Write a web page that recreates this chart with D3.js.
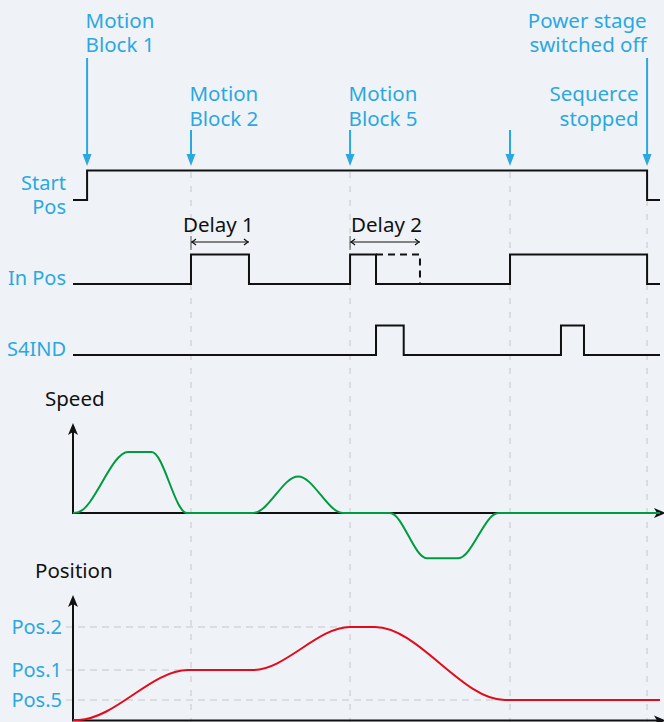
<!DOCTYPE html>
<html><head><meta charset="utf-8">
<script src="https://cdn.jsdelivr.net/npm/d3@7"></script>
<style>
html,body{margin:0;padding:0;background:#eff3f7;}
svg{display:block;font-family:"Noto Sans","Open Sans",sans-serif;}
</style></head><body>
<svg id="chart" width="664" height="722"></svg>
<script>
// ---------- DATA (time axis in arbitrary units 0..100) ----------
const markerTimes = [2.4, 20.1, 47.2, 74.45, 97.8];
const gridTimes = [20.1, 47.2, 74.45, 97.8];
const labelTexts = [["Motion","Block 1"],["Motion","Block 2"],["Motion","Block 5"],["Power stage","switched off"],["Sequerce","stopped"]];
const labelTimes = [2.4, 20.1, 47.2, 97.8, 97.8];
const labelRows = [0, 1, 1, 0, 1];

const signalNames = ["Start Pos", "In Pos", "S4IND"];
const startPosSteps = [[0,0],[2.4,1],[97.8,0],[100,0]];
const inPosSteps = [[0,0],[20.1,1],[29.98,0],[47.2,1],[51.62,0],[74.45,1],[97.8,0],[100,0]];
const inPosDelayed = [[51.62,1],[59.11,1],[59.11,0]];
const s4indSteps = [[0,0],[51.62,1],[56.34,0],[83.13,1],[87.05,0],[100,0]];

const delayNames = ["Delay 1", "Delay 2"];
const delayStart = [20.1, 47.2];
const delayEnd = [29.98, 59.11];

const speedTime  = [0, 0.8, 9.4, 13.4, 19.4, 30.7, 38.35, 46.0, 54.0, 60.26, 65.64, 72.45, 100];
const speedValue = [0, 1, 100, 100, 0, 0, 60, 0, 0, -74, -74, 0, 0];

const posTime  = [0, 1, 19.6, 30.66, 47.2, 51.45, 73.6, 100];
const posValue = [0, 0.1, 50, 50, 93, 93, 20, 20];

const posTickNames = ["Pos.2", "Pos.1", "Pos.5"];
const posTickValues = [93, 50, 20];
const posTickReach = [47.2, 20.1, 74.45];

// ---------- STYLE / LAYOUT ----------
const BLUE = "#2ba8e0", BLACK = "#111", GRID = "#d4d6d8", GREEN = "#009a3f", RED = "#e30a1c";
const svg = d3.select("#chart");
const x = d3.scaleLinear().domain([0,100]).range([73,660]);
const signalBase = d3.scaleOrdinal().domain(signalNames).range([200, 284, 355]);
const level = d3.scaleLinear().domain([0,1]).range([0,-29.5]);
const ySpeed = d3.scaleLinear().domain([-100,100]).range([574,452]);
const yPos = d3.scaleLinear().domain([0,100]).range([720,620]);

// vertical dashed gridlines
svg.append("g").selectAll("line").data(gridTimes).join("line")
  .attr("x1", d=>x(d)).attr("x2", d=>x(d)).attr("y1", 172).attr("y2", 722)
  .attr("stroke", GRID).attr("stroke-width", 1.5).attr("stroke-dasharray", "6,8");

// horizontal position gridlines
svg.append("g").selectAll("line").data(posTickValues).join("line")
  .attr("x1", 66).attr("x2", (d,i)=>x(posTickReach[i])).attr("y1", d=>yPos(d)).attr("y2", d=>yPos(d))
  .attr("stroke", GRID).attr("stroke-width", 1.5).attr("stroke-dasharray", "7,5");

// marker labels
const rowBase = [27.5, 101];
labelTexts.forEach((lines, i) => {
  const anchorEnd = labelTimes[i] > 90;
  const tx = anchorEnd ? x(labelTimes[i]) + (labelRows[i] === 0 ? -0.5 : -8.5) : x(labelTimes[i]) - 1.5;
  const t = svg.append("text").attr("fill", BLUE).attr("font-size", 20.5)
    .attr("text-anchor", anchorEnd ? "end" : "start");
  lines.forEach((s, j) => t.append("tspan").attr("x", tx).attr("y", rowBase[labelRows[i]] + j*24.5).text(s));
});

// marker arrows
markerTimes.forEach(tm => {
  const top = labelTimes.some((lt, i) => lt === tm && labelRows[i] === 0) ? 58 : 130;
  const cx = x(tm);
  svg.append("line").attr("x1", cx).attr("x2", cx).attr("y1", top).attr("y2", 158)
    .attr("stroke", BLUE).attr("stroke-width", 2);
  svg.append("path").attr("d", `M${cx-4.5},154 L${cx+4.5},154 L${cx},166 Z`).attr("fill", BLUE);
});

// signals
const stepLine = base => d3.line().x(d=>x(d[0])).y(d=>base + level(d[1])).curve(d3.curveStepAfter);
const signalData = [startPosSteps, inPosSteps, s4indSteps];
signalNames.forEach((n, i) => {
  svg.append("path").attr("d", stepLine(signalBase(n))(signalData[i]))
    .attr("fill", "none").attr("stroke", BLACK).attr("stroke-width", 2);
});
svg.append("path").attr("d", d3.line().x(d=>x(d[0])).y(d=>signalBase("In Pos") + level(d[1]))(inPosDelayed))
  .attr("fill", "none").attr("stroke", BLACK).attr("stroke-width", 2).attr("stroke-dasharray", "7,5");

// signal labels
const sigLbl = svg.append("g").attr("fill", BLUE).attr("font-size", 20).attr("text-anchor", "end");
sigLbl.append("text").attr("x", 66).attr("y", 190).text("Start");
sigLbl.append("text").attr("x", 66).attr("y", 213.5).text("Pos");
sigLbl.append("text").attr("x", 66).attr("y", 285).text("In Pos");
sigLbl.append("text").attr("x", 66).attr("y", 356).text("S4IND");

// delay annotations
delayNames.forEach((n, i) => {
  const x0 = x(delayStart[i]), x1 = x(delayEnd[i]), y = 242;
  svg.append("text").attr("x", x0 - 8 + (i ? 9 : 0)).attr("y", 232).attr("font-size", 20.5).attr("fill", BLACK).text(n);
  svg.append("line").attr("x1", x0).attr("x2", x1).attr("y1", y).attr("y2", y).attr("stroke", BLACK).attr("stroke-width", 1);
  svg.append("line").attr("x1", x0).attr("x2", x0).attr("y1", 236).attr("y2", 250).attr("stroke", "#555").attr("stroke-width", 1);
  svg.append("path").attr("d", `M${x0+5},${y-3} L${x0+1},${y} L${x0+5},${y+3} M${x1-5},${y-3} L${x1-1},${y} L${x1-5},${y+3}`)
    .attr("fill", "none").attr("stroke", BLACK).attr("stroke-width", 1.2);
});

// axes helper
function axesArrows(yZero, yTop) {
  const g = svg.append("g");
  g.append("line").attr("x1", 73).attr("x2", 73).attr("y1", yZero).attr("y2", yTop + 8).attr("stroke", BLACK).attr("stroke-width", 2);
  g.append("path").attr("d", `M${73-5},${yTop+12} L73,${yTop} L${73+5},${yTop+12} L73,${yTop+9} Z`).attr("fill", BLACK);
  g.append("line").attr("x1", 72).attr("x2", 662).attr("y1", yZero).attr("y2", yZero).attr("stroke", BLACK).attr("stroke-width", 2);
  g.append("path").attr("d", `M654,${yZero-5} L666,${yZero} L654,${yZero+5} L657,${yZero} Z`).attr("fill", BLACK);
}

// speed chart
axesArrows(ySpeed(0), 423);
svg.append("text").attr("x", 45).attr("y", 406).attr("font-size", 20.5).attr("fill", BLACK).text("Speed");
svg.append("path").datum(d3.zip(speedTime, speedValue))
  .attr("d", d3.line().x(d=>x(d[0])).y(d=>ySpeed(d[1])).curve(d3.curveMonotoneX))
  .attr("fill", "none").attr("stroke", GREEN).attr("stroke-width", 2);

// position chart
axesArrows(yPos(0) + 0.5, 595);
svg.append("text").attr("x", 35).attr("y", 578).attr("font-size", 20.5).attr("fill", BLACK).text("Position");
const posAxis = svg.append("g").attr("transform", "translate(73,0)")
  .call(d3.axisLeft(yPos).tickValues(posTickValues).tickFormat((d,i)=>posTickNames[i]).tickSize(0).tickPadding(11));
posAxis.select(".domain").remove();
posAxis.selectAll("text").attr("fill", BLUE).attr("font-size", 20).attr("font-family", "Noto Sans, Open Sans, sans-serif");
svg.append("path").datum(d3.zip(posTime, posValue))
  .attr("d", d3.line().x(d=>x(d[0])).y(d=>yPos(d[1])).curve(d3.curveMonotoneX))
  .attr("fill", "none").attr("stroke", RED).attr("stroke-width", 2);
</script>
</body></html>
